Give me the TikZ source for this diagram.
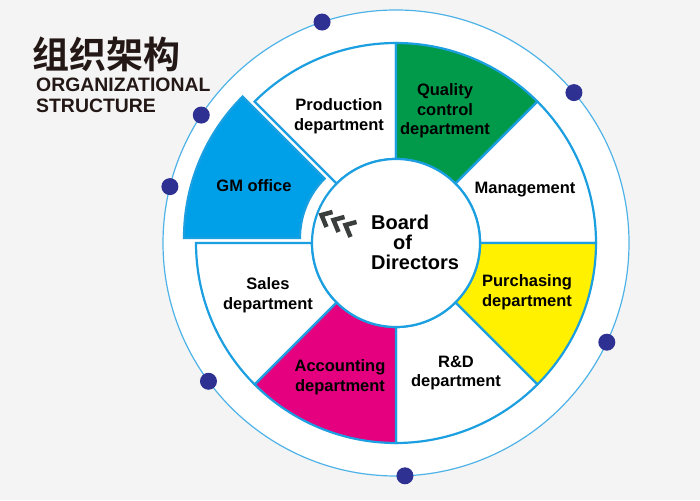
\documentclass[tikz,border=0pt]{standalone}
\usepackage{fontspec}
\setmainfont{Liberation Sans}
\newfontfamily\cjk{Noto Sans CJK SC}[BoldFont={Noto Sans CJK SC Bold}]
\definecolor{ringblue}{HTML}{1B9FE0}
\definecolor{lineblue}{HTML}{4FB3E8}
\definecolor{gmblue}{HTML}{00A0E9}
\definecolor{qgreen}{HTML}{009A4A}
\definecolor{pyellow}{HTML}{FFF100}
\definecolor{amagenta}{HTML}{E4007F}
\definecolor{dotblue}{HTML}{2E3192}
\definecolor{bggray}{HTML}{F4F4F4}
\definecolor{chevgray}{HTML}{3A3F3D}
\definecolor{titleblack}{HTML}{231815}
\begin{document}
\begin{tikzpicture}
  [x=1pt,y=1pt,
   seg/.style={draw=ringblue,line width=2.2pt,line join=miter},
   lbl/.style={font=\fontsize{16.5}{19.5}\selectfont\bfseries,align=center,inner sep=0pt},
   dot/.style={circle,fill=dotblue,minimum size=17pt,inner sep=0pt},
   chev/.style={draw=chevgray,line width=4.5pt,line join=miter}]
  \useasboundingbox[fill=bggray] (0,0) rectangle (700,500);
  \coordinate (c) at (396,257);
  \draw[fill=white,draw=lineblue,line width=1.2pt] (c) circle[radius=233];

  \foreach \a/\col/\off in {90/white/0,45/qgreen/0,0/white/0,-45/pyellow/0,-90/white/0,-135/amagenta/0,180/white/0,135/gmblue/13}
     \draw[seg,fill=\col,shift={(c)},shift={(\a+22.5:\off)}] (\a:84) -- (\a:200)
        arc[start angle=\a,delta angle=45,radius=200] -- (\a+45:84)
        arc[start angle=\a+45,delta angle=-45,radius=84] -- cycle;

  \node[circle,draw=ringblue,line width=2.2pt,fill=white,minimum size=168pt] (board) at (c) {};
  \node[anchor=west,align=left,inner sep=0pt,font=\fontsize{20}{20}\selectfont\bfseries] (boardtxt) at (371,257.5) {Board\\\hspace*{22pt}of\\Directors};
  \foreach \i in {0,1,2}
     \draw[chev] ([shift={(\i*12,-\i*5)}]321.5,285) ++(11,3) -- ++(-11,-3) -- ++(5,-12);

  \node[lbl] (prod) at (339,384) {Production\\department};
  \node[lbl] (qual) at (445,389) {Quality\\control\\department};
  \node[lbl] (mgmt) at (525,310) {Management};
  \node[lbl] (purch) at (527,208) {Purchasing\\department};
  \node[lbl] (rd) at (456,127) {R\&D\\department};
  \node[lbl] (acct) at (340,123) {Accounting\\department};
  \node[lbl] (sales) at (268,205) {Sales\\department};
  \node[lbl] (gm) at (254,314) {GM office};

  \foreach \b [count=\i] in {108.5,146.7,166,40.2,-25.2,216.4,-87.8}
     \node[dot] (dot\i) at ([shift={(\b:233)}]c) {};

  \node[anchor=base west,inner sep=0pt,text=titleblack,font=\cjk\bfseries\fontsize{37}{37}\selectfont] (cn) at (32,431.5) {组织架构};
  \node[anchor=base west,inner sep=0pt,text=titleblack,font=\fontsize{19.4}{19.4}\selectfont\bfseries] (org) at (36,408) {ORGANIZATIONAL};
  \node[anchor=base west,inner sep=0pt,text=titleblack,font=\fontsize{19.4}{19.4}\selectfont\bfseries] (struct) at (36,387) {STRUCTURE};
\end{tikzpicture}
\end{document}
